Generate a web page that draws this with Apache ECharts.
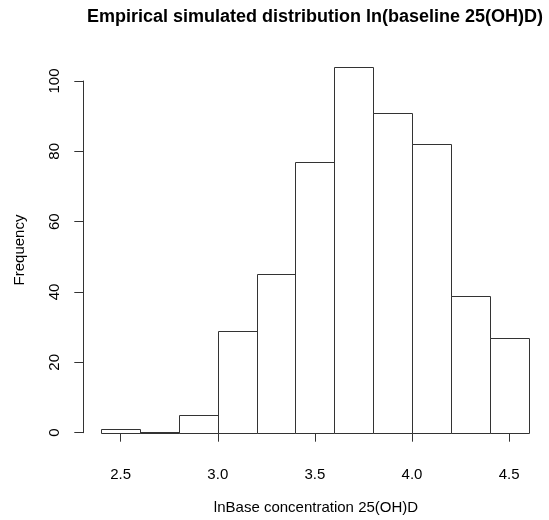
<!DOCTYPE html>
<html>
<head>
<meta charset="utf-8">
<script src="https://cdn.jsdelivr.net/npm/echarts@6/dist/echarts.min.js"></script>
<style>html,body{margin:0;padding:0;background:#fff;}#c{width:549px;height:520px;}</style>
</head>
<body>
<div id="c"></div>
<script>
// ---- data ----
const binEdges = [2.4, 2.6, 2.8, 3.0, 3.2, 3.4, 3.6, 3.8, 4.0, 4.2, 4.4, 4.6];
const counts = [1, 0, 5, 29, 45, 77, 104, 91, 82, 39, 27];
const titleText = 'Empirical simulated distribution ln(baseline 25(OH)D)';
const xTitle = 'lnBase concentration 25(OH)D';
const yTitle = 'Frequency';
const xTicks = [2.5, 3.0, 3.5, 4.0, 4.5];
const yTicks = [0, 20, 40, 60, 80, 100];

const binData = counts.map((c, i) => [binEdges[i], binEdges[i + 1], c]);

const font = 'Liberation Sans, Arial, Helvetica, sans-serif';
const ink = '#333';

const chart = echarts.init(document.getElementById('c'), null, {renderer: 'canvas'});
chart.setOption({
  animation: false,
  backgroundColor: '#fff',
  graphic: [
    {type: 'text', x: 315, y: 17,
      style: {text: titleText, fontFamily: font, fontWeight: 'bold', fontSize: 18,
        fill: '#000', align: 'center', verticalAlign: 'middle'}},
    {type: 'text', x: 316, y: 508,
      style: {text: xTitle, fontFamily: font, fontSize: 15,
        fill: '#000', align: 'center', verticalAlign: 'middle'}},
    {type: 'text', x: 20, y: 250, rotation: Math.PI / 2,
      style: {text: yTitle, fontFamily: font, fontSize: 15,
        fill: '#000', align: 'center', verticalAlign: 'middle'}}
  ],
  grid: {left: 120.7, right: 39.9, top: 81, bottom: 87.3},
  xAxis: {
    type: 'value', min: xTicks[0], max: xTicks[xTicks.length - 1], interval: xTicks[1] - xTicks[0],
    offset: 14,
    axisLine: {show: true, lineStyle: {color: ink, width: 1}},
    axisTick: {show: true, length: 9, lineStyle: {color: ink}},
    axisLabel: {fontFamily: font, fontSize: 15, color: '#000', margin: 21,
      formatter: v => v.toFixed(1)},
    splitLine: {show: false}
  },
  yAxis: {
    type: 'value', min: yTicks[0], max: yTicks[yTicks.length - 1], interval: yTicks[1] - yTicks[0],
    offset: 37.4,
    axisLine: {show: true, lineStyle: {color: ink, width: 1}},
    axisTick: {show: true, length: 9, lineStyle: {color: ink}},
    axisLabel: {fontFamily: font, fontSize: 15, color: '#000', rotate: 90, margin: 21},
    splitLine: {show: false}
  },
  series: [{
    type: 'custom',
    data: binData,
    clip: false,
    renderItem: function (params, api) {
      const p0 = api.coord([api.value(0), api.value(2)]);
      const p1 = api.coord([api.value(1), 0]);
      const x0 = Math.round(p0[0]), y0 = Math.round(p0[1]);
      const x1 = Math.round(p1[0]), y1 = Math.round(p1[1]);
      return {
        type: 'rect',
        shape: {x: x0 + 0.5, y: y0 + 0.5, width: x1 - x0, height: y1 - y0},
        style: {fill: '#fff', stroke: ink, lineWidth: 1}
      };
    }
  }]
});
</script>
</body>
</html>
